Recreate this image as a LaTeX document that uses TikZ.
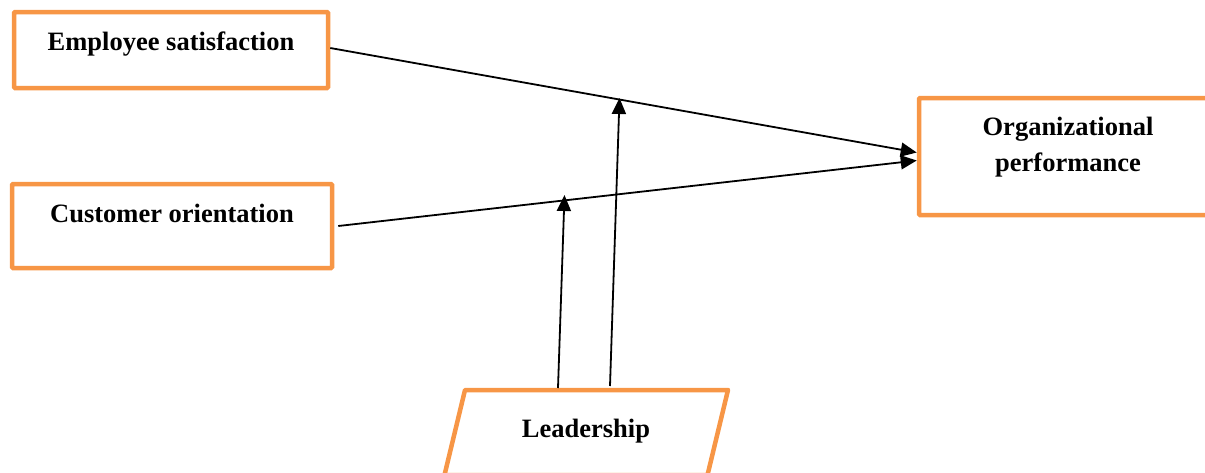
\documentclass[tikz,border=0pt]{standalone}
\usepackage{fontspec}
\setmainfont{Liberation Serif}
\usetikzlibrary{arrows.meta}
\definecolor{boxorange}{HTML}{F79646}
\begin{document}
\begin{tikzpicture}[x=1pt,y=-1pt,
  box/.style={draw=boxorange, line width=4.5pt, rounded corners=1pt, inner sep=0pt, fill=white},
  lbl/.style={anchor=base, font=\fontsize{26.5}{36}\selectfont\bfseries, align=center, inner sep=0pt},
  link/.style={line width=1.8pt, -{Triangle[length=16pt,width=14pt]}}]
  \useasboundingbox (0,0) rectangle (1205,472);

  % construct boxes
  \node[box, minimum width=314pt, minimum height=76pt] (emp) at (171,50) {};
  \node[box, minimum width=320pt, minimum height=84pt] (cust) at (172,226) {};
  \node[box, minimum width=296pt, minimum height=117pt] (org) at (1067,156.5) {};

  % moderator: parallelogram, its lower edge running off the page
  \draw[draw=boxorange, line width=4.5pt, line join=round]
    (465,390) -- (728,390) -- (707.5,475) -- (444.5,475) -- cycle;

  % labels
  \node[lbl] (empT) at (171,50) {Employee satisfaction};
  \node[lbl] (custT) at (172,222) {Customer orientation};
  \node[lbl] (orgT1) at (1068,135) {Organizational};
  \node[lbl] (orgT2) at (1068,171) {performance};
  \node[lbl] (leadT) at (586,437) {Leadership};

  % anchors for the moderating paths
  \coordinate (lead1) at (558,388);
  \coordinate (lead2) at (610,386);
  \coordinate (mod1) at (564.5,195);
  \coordinate (mod2) at (619.5,98);

  % direct effects
  \draw[link] ([yshift=2pt]emp.east) -- ([yshift=4pt]org.west);
  \draw[link] ([xshift=4pt]cust.east) -- ([yshift=-4pt]org.west);

  % moderating effects
  \draw[link] (lead1) -- (mod1);
  \draw[link] (lead2) -- (mod2);
\end{tikzpicture}
\end{document}
